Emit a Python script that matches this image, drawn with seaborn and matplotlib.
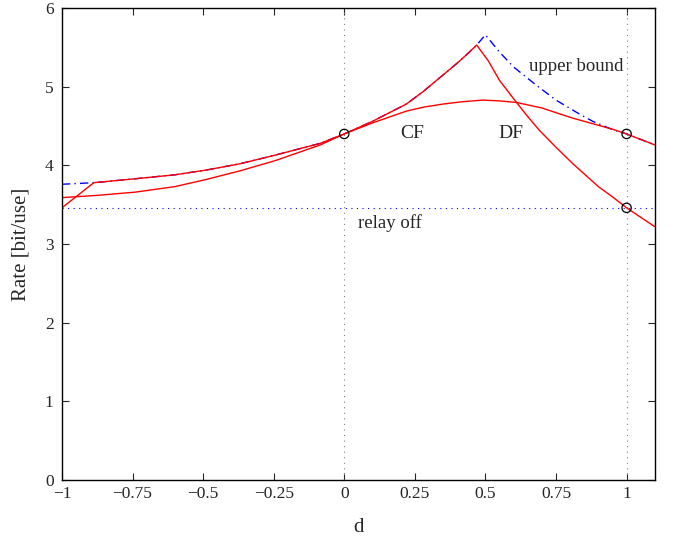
import seaborn as sns
import matplotlib.pyplot as plt
import pandas as pd
from matplotlib.ticker import FuncFormatter

# relay position d vs achievable rate
d_df = [-1.0, -0.887, -0.74, -0.6, -0.49, -0.37, -0.245, -0.085, 0.0, 0.05, 0.1,
        0.16, 0.22, 0.28, 0.34, 0.40, 0.44, 0.469, 0.51, 0.55, 0.61, 0.65, 0.69,
        0.75, 0.81, 0.9, 0.95, 1.0, 1.05, 1.1]
rate_df = [3.46, 3.78, 3.83, 3.88, 3.94, 4.02, 4.13, 4.28, 4.40, 4.48, 4.56,
           4.67, 4.78, 4.94, 5.12, 5.30, 5.43, 5.53, 5.33, 5.08, 4.80, 4.62, 4.45,
           4.23, 4.02, 3.73, 3.60, 3.46, 3.34, 3.22]

d_cf = [-1.0, -0.87, -0.74, -0.6, -0.49, -0.37, -0.245, -0.085, 0.0, 0.05, 0.1,
        0.22, 0.28, 0.35, 0.42, 0.49, 0.55, 0.61, 0.7, 0.75, 0.81, 0.9, 0.95,
        1.0, 1.1]
rate_cf = [3.59, 3.62, 3.66, 3.73, 3.82, 3.93, 4.06, 4.26, 4.40, 4.47, 4.54,
           4.69, 4.74, 4.78, 4.81, 4.83, 4.82, 4.80, 4.73, 4.67, 4.60, 4.51, 4.46,
           4.40, 4.26]

d_ub = [-1.0, -0.887, -0.74, -0.6, -0.49, -0.37, -0.245, -0.085, 0.0, 0.05, 0.1,
        0.16, 0.22, 0.28, 0.34, 0.40, 0.44, 0.469, 0.50, 0.55, 0.6, 0.68, 0.75,
        0.82, 0.88, 0.94, 1.0, 1.1]
rate_ub = [3.76, 3.78, 3.83, 3.88, 3.94, 4.02, 4.13, 4.28, 4.40, 4.48, 4.56,
           4.67, 4.78, 4.94, 5.12, 5.30, 5.43, 5.53, 5.66, 5.44, 5.25, 5.02, 4.83,
           4.68, 4.56, 4.47, 4.40, 4.26]

relay_off = 3.46
marker_d = [0.0, 1.0, 1.0]
marker_rate = [4.40, 4.40, 3.46]

x_ticks = [-1, -0.75, -0.5, -0.25, 0, 0.25, 0.5, 0.75, 1]
y_ticks = [0, 1, 2, 3, 4, 5, 6]

sns.set_style("ticks")
plt.rcParams['font.family'] = ['Liberation Serif', 'DejaVu Serif']

fig = plt.figure(figsize=(6.73, 5.39), dpi=100)
ax = fig.add_axes([0.092, 0.1095, 0.881, 0.8755])

df_ub = pd.DataFrame({"d": d_ub, "rate": rate_ub})
df_df = pd.DataFrame({"d": d_df, "rate": rate_df})
df_cf = pd.DataFrame({"d": d_cf, "rate": rate_cf})

ax.axhline(relay_off, color="blue", ls=(0, (1, 4)), lw=0.8)
ax.axvline(0, color="gray", ls=(0, (1, 4)), lw=0.8)
ax.axvline(1, color="gray", ls=(0, (1, 4)), lw=0.8)

sns.lineplot(data=df_ub, x="d", y="rate", ax=ax, sort=False, color="blue",
             lw=1.0, linestyle=(0, (6, 3, 1, 3)))
sns.lineplot(data=df_df, x="d", y="rate", ax=ax, sort=False, color="red", lw=1.0)
sns.lineplot(data=df_cf, x="d", y="rate", ax=ax, sort=False, color="red", lw=1.0)
sns.scatterplot(x=marker_d, y=marker_rate, ax=ax, marker="o", s=45,
                facecolor="none", edgecolor="black", linewidth=0.9, zorder=5)

ax.text(0.2, 4.4, "CF", fontsize=14, va="center")
ax.text(0.545, 4.4, "DF", fontsize=14, va="center")
ax.text(0.655, 5.26, "upper bound", fontsize=13.5, va="center")
ax.text(0.05, 3.27, "relay off", fontsize=13.5, va="center")

ax.set_xlim(-1, 1.1)
ax.set_ylim(0, 6)
ax.set_xticks(x_ticks)
ax.set_yticks(y_ticks)
ax.xaxis.set_major_formatter(FuncFormatter(lambda v, p: ("%g" % v).replace("-", "\u2212")))
ax.tick_params(direction="in", top=True, right=True, labelsize=12.5, length=5)
ax.tick_params(axis="y", pad=6)
ax.tick_params(axis="x", pad=4)
ax.set_xlabel("d", fontsize=15, labelpad=12)
ax.set_ylabel("Rate [bit/use]", fontsize=15, labelpad=10)
for s in ax.spines.values():
    s.set_linewidth(1.0)
    s.set_color("black")

fig.savefig("out.png", dpi=100)
